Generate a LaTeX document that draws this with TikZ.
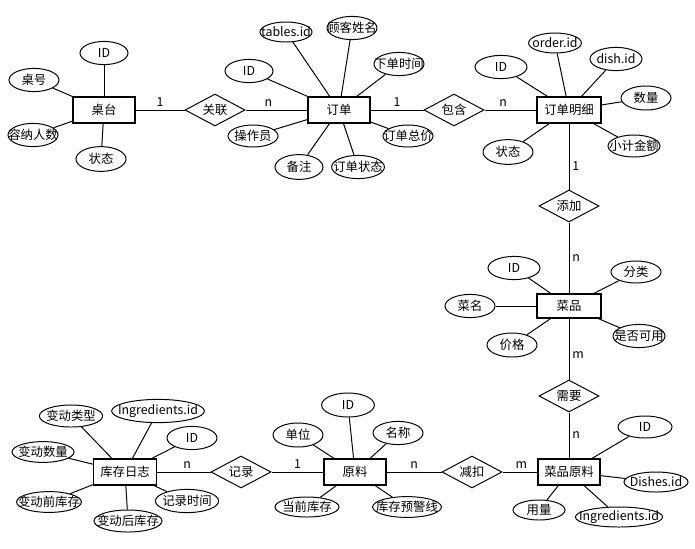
\documentclass[tikz,border=0pt]{standalone}
\usepackage{fontspec}
\setmainfont{Noto Sans CJK SC}
\usetikzlibrary{shapes.geometric}
\tikzstyle{entity} = [rectangle, draw=black, line width=0.9pt, minimum width=1.55cm, minimum height=0.65cm, inner sep=0pt]
\tikzstyle{attr} = [ellipse, draw=black, line width=0.7pt, inner xsep=-1cm, inner ysep=-0.1cm, minimum width=1.25cm, minimum height=0.58cm]
\tikzstyle{rel} = [diamond, aspect=2, draw=black, line width=0.7pt, inner sep=0pt, minimum width=1.5cm, minimum height=0.8cm]
\tikzstyle{link} = [line width=0.7pt]
\tikzstyle{card} = [inner sep=2pt]

\begin{document}
\begin{tikzpicture}[x=0.025cm, y=-0.025cm, font=\fontsize{8.8}{10}\selectfont]
\useasboundingbox (0,0) rectangle (695,548);

% 桌台
\node[entity] (zt) at (104,110) {桌台};
\node[attr, minimum width=1.2cm] (ztid) at (104,53) {ID};
\node[attr] (zth) at (34,80) {桌号};
\node[attr] (ztrs) at (33,135) {容纳人数};
\node[attr, minimum height=0.62cm] (ztzt) at (101,159) {状态};
\node[rel] (gl) at (215,110) {关联};

% 订单
\node[entity] (dd) at (339,110) {订单};
\node[attr, minimum width=1.2cm] (ddid) at (249,71) {ID};
\node[attr, minimum width=1.3cm, minimum height=0.5cm] (ddtid) at (286,32) {tables.id};
\node[attr] (ddgk) at (352,28) {顾客姓名};
\node[attr] (ddsj) at (399,64) {下单时间};
\node[attr, minimum height=0.55cm] (ddzj) at (408,136) {订单总价};
\node[attr, minimum width=1.32cm] (ddzt) at (358,167) {订单状态};
\node[attr, minimum width=1.2cm, minimum height=0.62cm] (ddbz) at (299,167) {备注};
\node[attr, minimum height=0.55cm] (ddczy) at (253,136) {操作员};
\node[rel] (bh) at (454,110) {包含};

% 订单明细
\node[entity, minimum width=1.6cm] (mx) at (569,110) {订单明细};
\node[attr, minimum width=1.3cm] (mxid) at (501,67) {ID};
\node[attr, minimum width=1.32cm, minimum height=0.5cm] (mxoid) at (555,43) {order.id};
\node[attr, minimum width=1.3cm] (mxdid) at (616,59) {dish.id};
\node[attr, minimum height=0.6cm] (mxsl) at (646,98) {数量};
\node[attr, minimum width=1.3cm, minimum height=0.55cm] (mxje) at (634,146) {小计金额};
\node[attr, minimum height=0.62cm] (mxzt) at (508,152) {状态};
\node[rel] (tj) at (569,206) {添加};

% 菜品
\node[entity, minimum width=1.6cm, minimum height=0.6cm] (cp) at (569,306) {菜品};
\node[attr, minimum width=1.3cm] (cpid) at (514,268) {ID};
\node[attr, minimum height=0.55cm] (cpfl) at (636,272) {分类};
\node[attr] (cpcm) at (470,306) {菜名};
\node[attr, minimum height=0.6cm] (cpjg) at (512,345) {价格};
\node[attr, minimum width=1.3cm] (cpky) at (639,336) {是否可用};
\node[rel] (xy) at (569,396) {需要};

% 菜品原料
\node[entity] (cpyl) at (569,472) {菜品原料};
\node[attr, minimum width=1.35cm, minimum height=0.55cm] (cpylid) at (645,427) {ID};
\node[attr, minimum width=1.6cm, minimum height=0.5cm] (cpyldid) at (656,482) {Dishes.id};
\node[attr, minimum width=2.18cm, minimum height=0.5cm] (cpyliid) at (619,517) {Ingredients.id};
\node[attr, minimum width=1.3cm, minimum height=0.5cm] (cpylyl) at (539,510) {用量};
\node[rel] (jk) at (472,472) {减扣};

% 原料
\node[entity] (yl) at (355,472) {原料};
\node[attr, minimum width=1.32cm, minimum height=0.6cm] (ylid) at (348,405) {ID};
\node[attr, minimum height=0.6cm] (yldw) at (298,435) {单位};
\node[attr] (ylmc) at (398,433) {名称};
\node[attr, minimum width=1.6cm, minimum height=0.5cm] (yldq) at (307,507) {当前库存};
\node[attr, minimum width=1.72cm, minimum height=0.52cm] (ylyj) at (407,507) {库存预警线};
\node[rel] (jl) at (241,472) {记录};

% 库存日志
\node[entity, minimum width=1.58cm] (rz) at (125,472) {库存日志};
\node[attr, minimum width=1.58cm, minimum height=0.55cm] (rzlx) at (71,416) {变动类型};
\node[attr, minimum width=2.32cm] (rziid) at (158,411) {Ingredients.id};
\node[attr] (rzid) at (192,438) {ID};
\node[attr, minimum width=1.55cm, minimum height=0.52cm] (rzsl) at (43,452) {变动数量};
\node[attr, minimum width=1.62cm, minimum height=0.52cm] (rzq) at (49,502) {变动前库存};
\node[attr, minimum width=1.7cm, minimum height=0.55cm] (rzh) at (128,521) {变动后库存};
\node[attr, minimum width=1.58cm] (rzsj) at (187,501) {记录时间};

% attributes
\foreach \a in {ztid,zth,ztrs,ztzt} \draw[link] (\a) -- (zt);
\foreach \a in {ddid,ddtid,ddgk,ddsj,ddzj,ddzt,ddbz,ddczy} \draw[link] (\a) -- (dd);
\foreach \a in {mxid,mxoid,mxdid,mxsl,mxje,mxzt} \draw[link] (\a) -- (mx);
\foreach \a in {cpid,cpfl,cpcm,cpjg,cpky} \draw[link] (\a) -- (cp);
\foreach \a in {cpylid,cpyldid,cpyliid,cpylyl} \draw[link] (\a) -- (cpyl);
\foreach \a in {ylid,yldw,ylmc,yldq,ylyj} \draw[link] (\a) -- (yl);
\foreach \a in {rzlx,rziid,rzid,rzsl,rzq,rzh,rzsj} \draw[link] (\a) -- (rz);

% relations
\draw[link] (zt) -- node[card, above] {1} (gl);
\draw[link] (gl) -- node[card, above, pos=0.37] {n} (dd);
\draw[link] (dd) -- node[card, above] {1} (bh);
\draw[link] (bh) -- node[card, above, pos=0.36] {n} (mx);
\draw[link] (mx) -- node[card, right, pos=0.65] {1} (tj);
\draw[link] (tj) -- node[card, right] {n} (cp);
\draw[link] (cp) -- node[card, right, pos=0.6] {m} (xy);
\draw[link] (xy) -- node[card, right] {n} (cpyl);
\draw[link] (cpyl) -- node[card, above, pos=0.46] {m} (jk);
\draw[link] (jk) -- node[card, above] {n} (yl);
\draw[link] (yl) -- node[card, above] {1} (jl);
\draw[link] (jl) -- node[card, above, pos=0.44] {n} (rz);
\end{tikzpicture}
\end{document}
